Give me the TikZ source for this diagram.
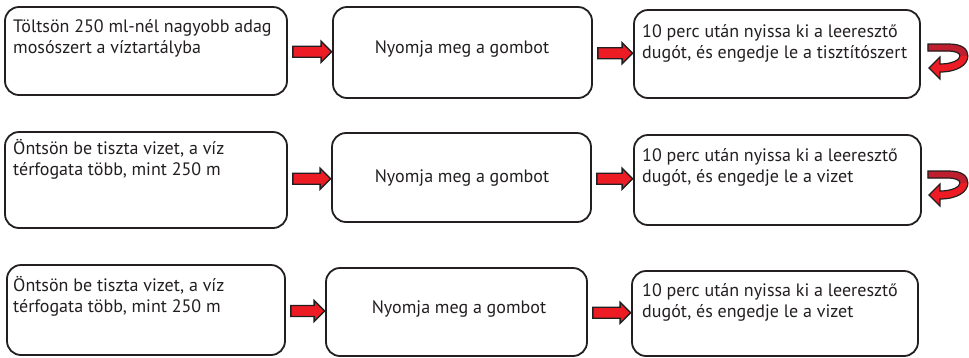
\documentclass[tikz,border=0pt]{standalone}
\usepackage{fontspec}
\setmainfont{PT Sans}
\usetikzlibrary{calc}
\definecolor{arrred}{HTML}{ED1C24}
\definecolor{arrdark}{HTML}{BE1E2D}
\definecolor{ink}{HTML}{231F20}
\tikzset{
  stepbox/.style={draw=ink, line width=1.8pt, rounded corners=14pt, inner sep=0pt},
  steptext/.style={text=ink, inner sep=0pt, align=left, font=\fontsize{18}{21}\selectfont},
  blockarrow/.style={draw=ink, fill=arrred, line width=1.4pt, line join=miter},
  pics/uturn/.style={code={
    \fill[arrred] (1,1) -- (22,1) .. controls (35,1) and (41,6) .. (41,13)
      .. controls (41,22) and (30,29) .. (13,29) -- (13,36) -- (2,25) -- (13,14) -- (13,21)
      .. controls (25,21) and (33,17) .. (33,13) .. controls (33,10) and (29,8) .. (20,8) -- (1,8) -- cycle;
    \fill[arrdark] (1,1) -- (22,1) .. controls (35,1) and (41,6) .. (41,13) -- (33,13)
      .. controls (33,10) and (29,8) .. (20,8) -- (1,8) -- cycle;
    \draw[ink, line width=1.2pt, line join=miter] (1,1) -- (22,1) .. controls (35,1) and (41,6) .. (41,13)
      .. controls (41,22) and (30,29) .. (13,29) -- (13,36) -- (2,25) -- (13,14) -- (13,21)
      .. controls (25,21) and (33,17) .. (33,13) .. controls (33,10) and (29,8) .. (20,8) -- (1,8) -- cycle;
  }}
}
\newcommand\blockarr[2]{%
  \path let \p1=(#1.east), \p2=(#2.west), \n1={(\y1+\y2)/2} in
    [blockarrow] (\x1+5pt,\n1+5.5pt) -- (\x2-11pt,\n1+5.5pt) -- (\x2-11pt,\n1+10.5pt)
    -- (\x2-0.5pt,\n1) -- (\x2-11pt,\n1-10.5pt) -- (\x2-11pt,\n1-5.5pt)
    -- (\x1+5pt,\n1-5.5pt) -- cycle;}
\begin{document}
\begin{tikzpicture}[x=1pt,y=-1pt]
\useasboundingbox (0,0) rectangle (969,357);
% row 1
\node[stepbox, minimum width=282pt, minimum height=88pt] (a1) at (146,51) {};
\node[stepbox, minimum width=259pt, minimum height=91pt] (b1) at (462.5,52.5) {};
\node[stepbox, minimum width=286pt, minimum height=88pt] (c1) at (777,54) {};
% row 2
\node[stepbox, minimum width=282pt, minimum height=96pt] (a2) at (146,180) {};
\node[stepbox, minimum width=259pt, minimum height=89pt] (b2) at (461.5,177.5) {};
\node[stepbox, minimum width=287pt, minimum height=90pt] (c2) at (777.5,180) {};
% row 3
\node[stepbox, minimum width=278pt, minimum height=90pt] (a3) at (146,310) {};
\node[stepbox, minimum width=261pt, minimum height=88pt] (b3) at (456.5,312) {};
\node[stepbox, minimum width=286pt, minimum height=85pt] (c3) at (775,313.5) {};
% texts (base = baseline of last line)
\node[steptext, anchor=base west] (ta1) at (13,53) {Töltsön 250 ml-nél nagyobb adag\\mosószert a víztartályba};
\node[steptext, anchor=base] (tb1) at (462,53) {Nyomja meg a gombot};
\node[steptext, anchor=base west] (tc1) at (642,58) {10 perc után nyissa ki a leeresztő\\dugót, és engedje le a tisztítószert};
\node[steptext, anchor=base west] (ta2) at (13,175) {Öntsön be tiszta vizet, a víz\\térfogata több, mint 250 m};
\node[steptext, anchor=base] (tb2) at (462,182) {Nyomja meg a gombot};
\node[steptext, anchor=base west] (tc2) at (642,182) {10 perc után nyissa ki a leeresztő\\dugót, és engedje le a vizet};
\node[steptext, anchor=base west] (ta3) at (13,312) {Öntsön be tiszta vizet, a víz\\térfogata több, mint 250 m};
\node[steptext, anchor=base] (tb3) at (459,313) {Nyomja meg a gombot};
\node[steptext, anchor=base west] (tc3) at (642,317) {10 perc után nyissa ki a leeresztő\\dugót, és engedje le a vizet};
% arrows
\blockarr{a1}{b1}
\blockarr{b1}{c1}
\blockarr{a2}{b2}
\blockarr{b2}{c2}
\blockarr{a3}{b3}
\blockarr{b3}{c3}
\pic at ($(c1.east)+(6,-11)$) {uturn};
\pic at ($(c2.east)+(5,-10)$) {uturn};
\end{tikzpicture}
\end{document}
